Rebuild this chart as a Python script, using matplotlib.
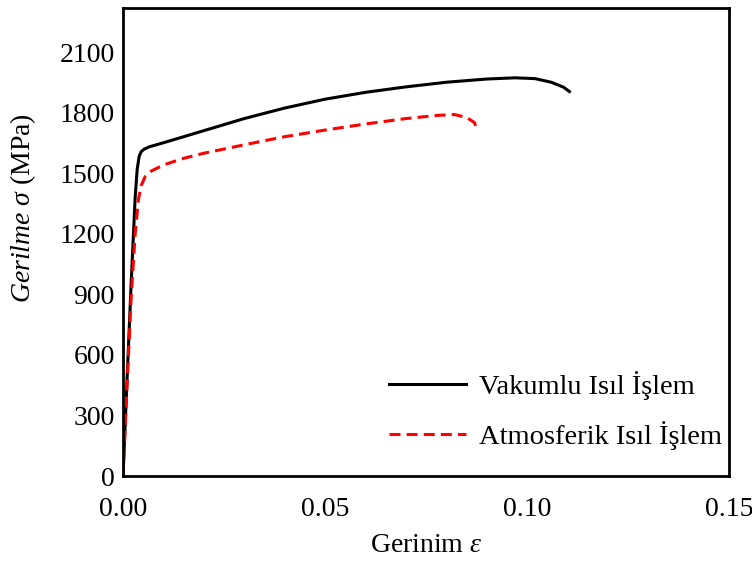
import numpy as np
import matplotlib
matplotlib.use('Agg')
import matplotlib.pyplot as plt

plt.rcParams['font.family'] = ['Liberation Serif', 'DejaVu Serif']
plt.rcParams['mathtext.fontset'] = 'custom'
plt.rcParams['mathtext.rm'] = 'Liberation Serif'
plt.rcParams['mathtext.it'] = 'Liberation Serif:italic'

# Stress-strain curves (strain, stress in MPa)
vakum_strain = [0, 0.001, 0.002, 0.003, 0.0035, 0.004, 0.0045, 0.0052, 0.0065, 0.01, 0.02, 0.03,
                0.04, 0.05, 0.06, 0.07, 0.08, 0.09, 0.097, 0.102, 0.106, 0.109, 0.1105]
vakum_stress = [0, 480, 950, 1380, 1520, 1585, 1608, 1620, 1632, 1652, 1712, 1772,
                1824, 1868, 1902, 1929, 1952, 1968, 1974, 1970, 1952, 1928, 1906]

atm_strain = [0, 0.001, 0.002, 0.003, 0.0038, 0.0045, 0.0055, 0.007, 0.01, 0.015, 0.02,
              0.03, 0.04, 0.05, 0.06, 0.07, 0.078, 0.082, 0.085, 0.087, 0.0875]
atm_stress = [0, 450, 880, 1200, 1370, 1440, 1485, 1512, 1542, 1575, 1600,
              1642, 1682, 1715, 1745, 1772, 1788, 1792, 1778, 1752, 1722]

x_ticks = [0.00, 0.05, 0.10, 0.15]
y_ticks = [0, 300, 600, 900, 1200, 1500, 1800, 2100]

fig = plt.figure(figsize=(7.52, 5.65), dpi=100)
ax = fig.add_axes([0.1636, 0.1575, 0.8058, 0.8283])

ax.plot(vakum_strain, vakum_stress, color='black', lw=2.2, label='Vakumlu Isıl İşlem')
ax.plot(atm_strain, atm_stress, color='red', lw=2.2, dashes=(3.6, 2.0),
        label='Atmosferik Isıl İşlem')

ax.set_xlim(0, 0.15)
ax.set_ylim(0, 2320)
ax.set_xticks(x_ticks)
ax.set_xticklabels([f'{v:.2f}' for v in x_ticks])
ax.set_yticks(y_ticks)
ax.tick_params(length=0, labelsize=20)
ax.tick_params(axis='x', pad=15)
ax.tick_params(axis='y', pad=6)
for s in ax.spines.values():
    s.set_linewidth(2.0)

ax.set_xlabel(r'Gerinim $\varepsilon$', fontsize=20, labelpad=8)
ax.set_ylabel(r'$\mathit{Gerilme}\ \sigma$ (MPa)', fontsize=20, va='center')
ax.yaxis.set_label_coords(-0.165, 0.573)

ax.legend(loc='lower right', frameon=False, fontsize=20.5, handlelength=2.7,
          handletextpad=0.45, labelspacing=0.75, bbox_to_anchor=(1.031, 0.0))

fig.savefig('out.png', dpi=100)
